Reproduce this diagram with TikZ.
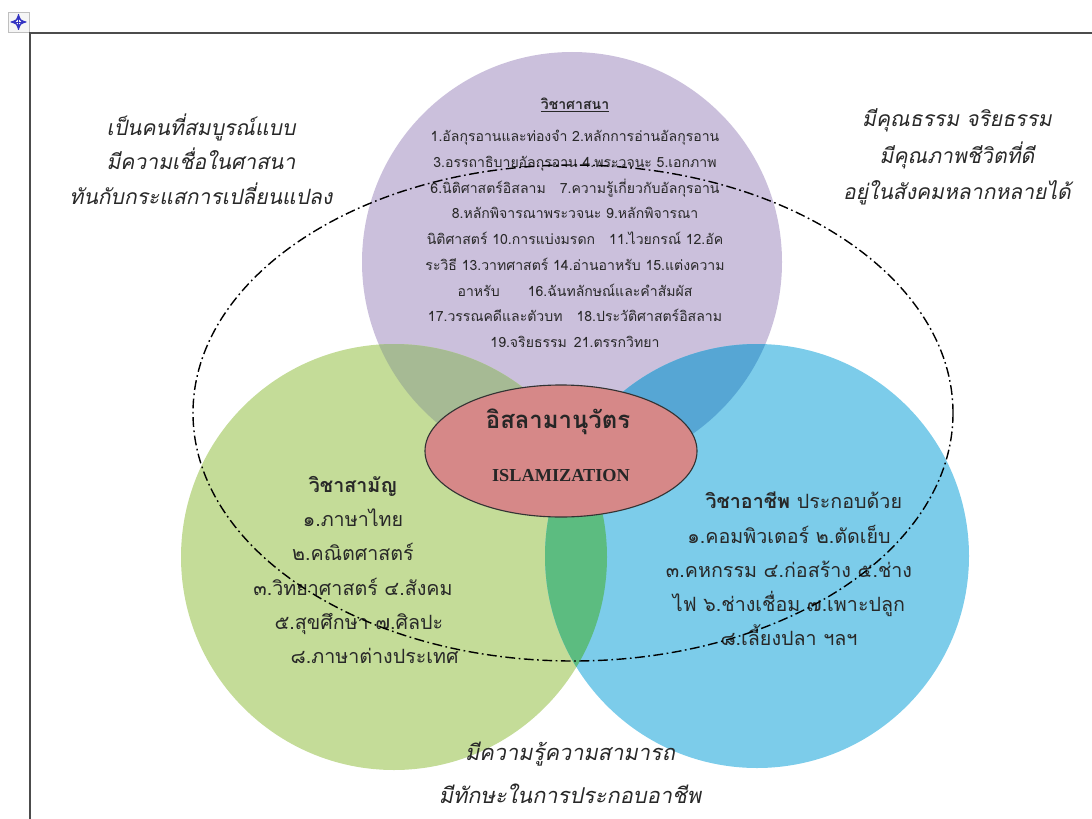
\documentclass[tikz,border=0pt]{standalone}
\usepackage{fontspec}
\setmainfont{Liberation Serif}
\newfontfamily\thaifont[Script=Thai]{Loma}
\newfontfamily\thaislant[Script=Thai,FakeSlant=0.2]{Loma}
\usepackage{tikz}
\usetikzlibrary{arrows}
\usetikzlibrary{shapes.geometric}

\definecolor{relfill}{RGB}{203,192,220}
\definecolor{genfill}{RGB}{196,220,152}
\definecolor{vocfill}{RGB}{124,204,234}
\definecolor{relgen}{RGB}{166,186,148}
\definecolor{relvoc}{RGB}{86,166,212}
\definecolor{genvoc}{RGB}{92,188,128}
\definecolor{corefill}{RGB}{214,136,136}
\definecolor{ink}{RGB}{40,40,40}

\begin{document}
\begin{tikzpicture}[x=0.25mm,y=-0.25mm,
  >=stealth',
  reltext/.style={font=\thaifont\fontsize{10}{18.3}\selectfont,text=ink,align=center,inner sep=0pt},
  subtext/.style={font=\thaifont\fontsize{14}{24.3}\selectfont,text=ink,align=center,inner sep=0pt},
  goal/.style={font=\thaislant\fontsize{15}{24.5}\selectfont,text=ink,align=center,inner sep=0pt},
  outcome/.style={dash pattern=on 7pt off 2.5pt on 1.2pt off 2.5pt,line width=1pt}]
      \tikzstyle{every node}=[inner sep=0pt]

      \useasboundingbox (0,0) rectangle (1092,819);

      % frame and handle
      \draw[gray!50,fill=gray!8] (8,12) rectangle (29,32);
      \draw[blue!70!black!80,line width=0.7pt,<->] (10.5,22) -- (26.5,22);
      \draw[blue!70!black!80,line width=0.7pt,<->] (18.5,14) -- (18.5,30);
      \draw[black!70,line width=1.4pt] (1092,33) -- (30,33) -- (30,819);

      % circles
      \fill[relfill] (572,262) circle (210);
      \fill[genfill] (394,557) circle (213);
      \fill[vocfill] (757,556) circle (212);
      \begin{scope}
	\clip (572,262) circle (210);
	\fill[relgen] (394,557) circle (213);
	\fill[relvoc] (757,556) circle (212);
      \end{scope}
      \begin{scope}
	\clip (394,557) circle (213);
	\fill[genvoc] (757,556) circle (212);
      \end{scope}

      \node[ellipse,draw=black!80,thick,fill=corefill,minimum width=68mm,minimum height=33mm] (core) at (561,451) {};
      \node[font=\thaifont\bfseries\fontsize{17}{20}\selectfont,text=black!85] (corethai) at (558,422) {อิสลามานุวัตร};
      \node[font=\bfseries\fontsize{13}{15}\selectfont,text=black!85] (coreeng) at (561,476) {ISLAMIZATION};

      % religion
      \node[reltext] (relhead) at (575,105) {\bfseries\underline{วิชาศาสนา}};
      \node[reltext] (rellist) at (575,239) {1.อัลกุรอานและท่องจำ 2.หลักการอ่านอัลกุรอาน\\
	3.อรรถาธิบายอัลกุรอาน 4.พระวจนะ 5.เอกภาพ\\
	6.นิติศาสตร์อิสลาม\quad 7.ความรู้เกี่ยวกับอัลกุรอาน\\
	8.หลักพิจารณาพระวจนะ 9.หลักพิจารณา\\
	นิติศาสตร์ 10.การแบ่งมรดก\quad 11.ไวยกรณ์ 12.อัค\\
	ระวิธี 13.วาทศาสตร์ 14.อ่านอาหรับ 15.แต่งความ\\
	อาหรับ\qquad 16.ฉันทลักษณ์และคำสัมผัส\\
	17.วรรณคดีและตัวบท\quad 18.ประวัติศาสตร์อิสลาม\\
	19.จริยธรรม\enspace 21.ตรรกวิทยา};

      % general
      \node[subtext] (genlist) at (353,570) {{\bfseries วิชาสามัญ}\\
	๑.ภาษาไทย\\
	๒.คณิตศาสตร์\\
	๓.วิทยาศาสตร์ ๔.สังคม\\
	\hspace*{0.6em}๕.สุขศึกษา ๗.ศิลปะ\\
	\hspace*{2.2em}๘.ภาษาต่างประเทศ};

      % vocational
      \node[subtext] (voclist) at (789,569) {\hspace*{1.5em}{\bfseries วิชาอาชีพ} ประกอบด้วย\\
	๑.คอมพิวเตอร์ ๒.ตัดเย็บ\\
	๓.คหกรรม ๔.ก่อสร้าง ๕.ช่าง\\
	ไฟ ๖.ช่างเชื่อม ๗.เพาะปลูก\\
	๘.เลี้ยงปลา ฯลฯ};

      % outcomes
      \draw[outcome] (573,413) ellipse (380 and 248);
      \node[goal] (goalleft) at (201,159) {เป็นคนที่สมบูรณ์แบบ\\มีความเชื่อในศาสนา\\ทันกับกระแสการเปลี่ยนแปลง};
      \node[goal,font=\thaislant\fontsize{15}{25.8}\selectfont] (goalright) at (957,157) {มีคุณธรรม จริยธรรม\\มีคุณภาพชีวิตที่ดี\\อยู่ในสังคมหลากหลายได้};
      \node[goal,font=\thaislant\fontsize{15.5}{30.6}\selectfont] (goalbottom) at (570,773) {มีความรู้ความสามารถ\\มีทักษะในการประกอบอาชีพ};

\end{tikzpicture}
\end{document}
